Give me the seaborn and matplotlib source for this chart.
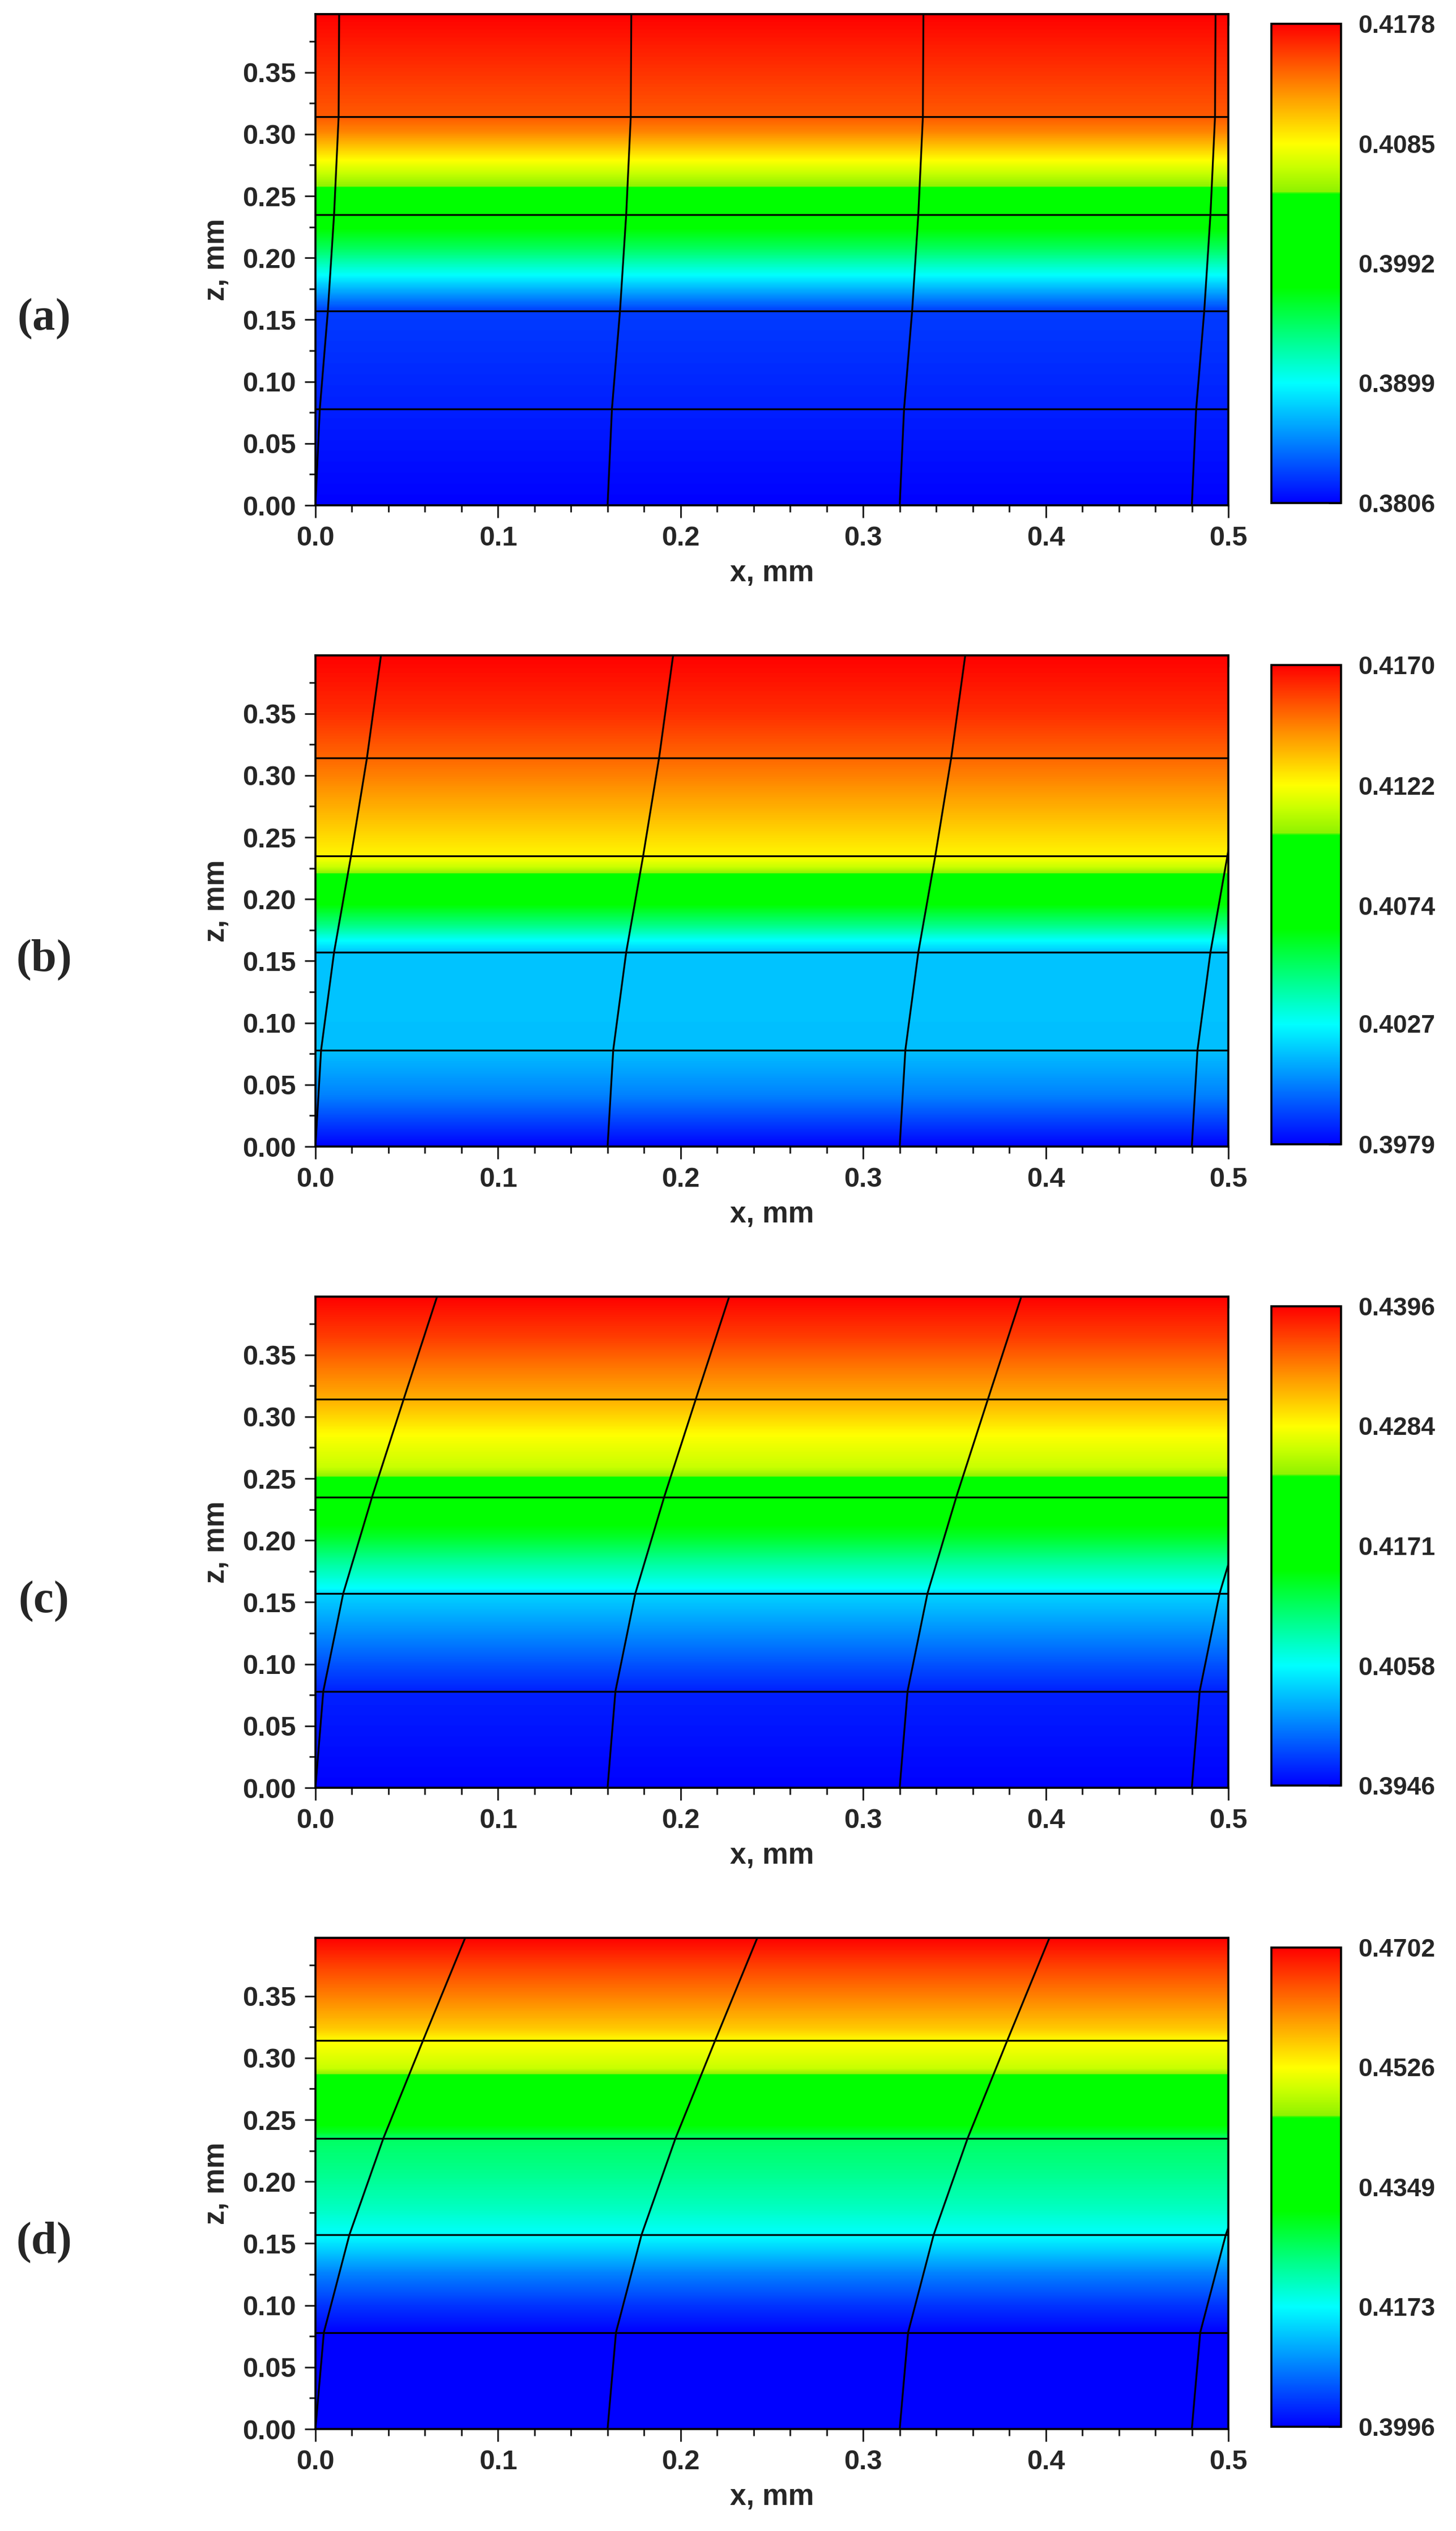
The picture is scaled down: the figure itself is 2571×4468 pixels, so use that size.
import numpy as np
import pandas as pd
import matplotlib
matplotlib.use("Agg")
import matplotlib.pyplot as plt
import seaborn as sns
from matplotlib.colors import LinearSegmentedColormap, Normalize
from matplotlib.cm import ScalarMappable
from matplotlib.ticker import MultipleLocator, FixedLocator, FormatStrFormatter

# ---- data ----
panel_names = ["a", "b", "c", "d"]

# colour bar labels (min ... max) per panel
cbar_a = ["0.3806", "0.3899", "0.3992", "0.4085", "0.4178"]
cbar_b = ["0.3979", "0.4027", "0.4074", "0.4122", "0.4170"]
cbar_c = ["0.3946", "0.4058", "0.4171", "0.4284", "0.4396"]
cbar_d = ["0.3996", "0.4173", "0.4349", "0.4526", "0.4702"]

# field value profile along z (mm) per panel
z_a = [0.0, 0.078, 0.157, 0.186, 0.208, 0.228, 0.257, 0.279, 0.302, 0.314, 0.397]
v_a = [0.3806, 0.3817, 0.3828, 0.3899, 0.3947, 0.3981, 0.4046, 0.4085, 0.4130, 0.4145, 0.4178]

z_b = [0.0, 0.041, 0.078, 0.157, 0.1665, 0.178, 0.199, 0.2205, 0.226, 0.236, 0.2996, 0.315, 0.352, 0.397]
v_b = [0.3979, 0.4003, 0.4015, 0.4016, 0.4027, 0.4044, 0.4069, 0.4102, 0.4113, 0.4124, 0.4146, 0.4151, 0.4162, 0.4170]

z_c = [0.0, 0.078, 0.157, 0.161, 0.185, 0.203, 0.219, 0.236, 0.251, 0.259, 0.286, 0.3035, 0.315, 0.338, 0.364, 0.397]
v_c = [0.3946, 0.3960, 0.4040, 0.4058, 0.4099, 0.4135, 0.4157, 0.4194, 0.4236, 0.4261, 0.4284, 0.4306, 0.4320, 0.4342, 0.4369, 0.4396]

z_d = [0.0, 0.078, 0.0995, 0.126, 0.144, 0.157, 0.178, 0.207, 0.236, 0.240, 0.2495, 0.2864, 0.2917, 0.315, 0.3233, 0.3443, 0.3757, 0.397]
v_d = [0.3996, 0.3996, 0.4031, 0.4086, 0.4137, 0.4173, 0.4206, 0.4236, 0.4261, 0.4293, 0.4328, 0.4451, 0.4490, 0.4530, 0.4561, 0.4603, 0.4660, 0.4702]

# layer boundaries (horizontal lines)
layer_z = [0.078, 0.157, 0.235, 0.314]

# deformed vertical grid lines: start x and shift at each node height
mesh_z = [0.0, 0.078, 0.157, 0.235, 0.314, 0.397]
mesh_x0 = [0.0, 0.16, 0.32, 0.48]
shift_a = [0.0, 0.0024, 0.0068, 0.0102, 0.0127, 0.0130]
shift_b = [0.0, 0.0031, 0.0102, 0.0195, 0.0282, 0.0359]
shift_c = [0.0, 0.0043, 0.0152, 0.0310, 0.0483, 0.0666]
shift_d = [0.0, 0.0046, 0.0186, 0.0372, 0.0589, 0.0820]

profiles = [(z_a, v_a), (z_b, v_b), (z_c, v_c), (z_d, v_d)]
cbar_labels = [cbar_a, cbar_b, cbar_c, cbar_d]
shifts = [shift_a, shift_b, shift_c, shift_d]

# Origin-like rainbow palette
rainbow = LinearSegmentedColormap.from_list("origin_rainbow", [
    (0.00, (0.0, 0.0, 1.0)),
    (0.25, (0.0, 1.0, 1.0)),
    (0.45, (0.0, 1.0, 0.0)),
    (0.645, (0.0, 1.0, 0.0)),
    (0.65, (0.56, 0.95, 0.0)),
    (0.70, (0.78, 1.0, 0.0)),
    (0.75, (1.0, 1.0, 0.0)),
    (1.00, (1.0, 0.0, 0.0)),
], N=1024)

sns.set_style("ticks")
plt.rcParams["font.family"] = ["Liberation Sans", "DejaVu Sans"]
plt.rcParams["font.weight"] = "bold"
plt.rcParams["axes.labelweight"] = "bold"
plt.rcParams["mathtext.fontset"] = "custom"
plt.rcParams["mathtext.rm"] = "Liberation Serif"
plt.rcParams["mathtext.bf"] = "Liberation Serif:bold"

W, H = 2571, 4468
fig = plt.figure(figsize=(W / 100, H / 100), dpi=100)

PT = 0.72  # points per pixel at dpi 100
ZTOP = 0.397

for k, name in enumerate(panel_names):
    top = 25 + 1132 * k
    ax = fig.add_axes([557 / W, 1 - (top + 867) / H, 1612 / W, 867 / H])
    cax = fig.add_axes([2245 / W, 1 - (top + 863) / H, 123 / W, 846 / H])

    zz, vv = profiles[k]
    labels = cbar_labels[k]
    ticks = [float(s) for s in labels]
    vmin, vmax = ticks[0], ticks[-1]

    # colour field (depends on z only)
    X, Z = np.meshgrid([0.0, 0.5], zz)
    V = np.repeat(np.array(vv)[:, None], 2, axis=1)
    ax.contourf(X, Z, V, levels=np.linspace(vmin, vmax, 301), cmap=rainbow,
                vmin=vmin, vmax=vmax, zorder=1)

    # layer boundaries
    ax.hlines(layer_z, 0, 0.5, colors="black", linewidth=2.3, zorder=3)

    # deformed grid lines
    rows = []
    for j, x0 in enumerate(mesh_x0):
        for zn, s in zip(mesh_z, shifts[k]):
            rows.append({"x": x0 + s, "z": zn, "line": j})
    df = pd.DataFrame(rows)
    sns.lineplot(data=df, x="x", y="z", units="line", estimator=None, sort=False,
                 color="black", linewidth=2.3, legend=False, ax=ax, zorder=4)

    ax.set_xlim(0, 0.5)
    ax.set_ylim(0, ZTOP)
    ax.xaxis.set_major_locator(MultipleLocator(0.1))
    ax.xaxis.set_minor_locator(MultipleLocator(0.02))
    ax.yaxis.set_major_locator(MultipleLocator(0.05))
    ax.yaxis.set_minor_locator(MultipleLocator(0.025))
    ax.xaxis.set_major_formatter(FormatStrFormatter("%.1f"))
    ax.yaxis.set_major_formatter(FormatStrFormatter("%.2f"))
    ax.tick_params(axis="x", which="major", direction="out", length=22 * PT,
                   width=2.2, pad=10, labelsize=35, top=False)
    ax.tick_params(axis="x", which="minor", direction="out", length=12 * PT,
                   width=2.2, top=False)
    ax.tick_params(axis="y", which="major", direction="out", length=19 * PT,
                   width=2.2, pad=11, labelsize=35, right=False)
    ax.tick_params(axis="y", which="minor", direction="out", length=11 * PT,
                   width=2.2, right=False)
    for sp in ax.spines.values():
        sp.set_visible(True)
        sp.set_linewidth(2.6)
        sp.set_color("black")
        sp.set_zorder(6)

    sec = ax.secondary_xaxis("top")
    sec.xaxis.set_major_locator(MultipleLocator(0.1))
    sec.xaxis.set_minor_locator(MultipleLocator(0.02))
    sec.tick_params(which="major", direction="in", length=20 * PT, width=2.2, labeltop=False)
    sec.tick_params(which="minor", direction="in", length=10 * PT, width=2.2)
    sec.spines["top"].set_linewidth(2.6)

    ax.set_xlabel("x, mm", fontsize=37, fontweight="bold")
    ax.set_ylabel("z, mm", fontsize=37, fontweight="bold")
    ax.xaxis.set_label_coords(0.5, (892 - 1012) / 867)
    ax.xaxis.label.set_va("center")
    ax.yaxis.set_label_coords((382 - 557) / 1612, 0.5)
    ax.yaxis.label.set_va("center")

    # colour bar
    sm = ScalarMappable(norm=Normalize(vmin, vmax), cmap=rainbow)
    cb = fig.colorbar(sm, cax=cax)
    cb.set_ticks(ticks, labels=labels)
    cb.ax.yaxis.set_minor_locator(FixedLocator(np.linspace(vmin, vmax, 25)))
    cb.ax.tick_params(which="major", direction="in", length=22 * PT, width=2.2,
                      pad=22, labelsize=32, right=True, left=False)
    cb.ax.tick_params(which="minor", direction="in", length=11 * PT, width=2.2,
                      right=True, left=False)
    cb.outline.set_linewidth(2.6)
    cb.outline.set_edgecolor("black")

    fig.text(76 / W, 1 - (563 + 1132 * k) / H,
             r"$\mathrm{(}\mathbf{" + name + r"}\mathrm{)}$",
             ha="center", va="center", fontsize=58)

fig.savefig("out.png", dpi=100)
